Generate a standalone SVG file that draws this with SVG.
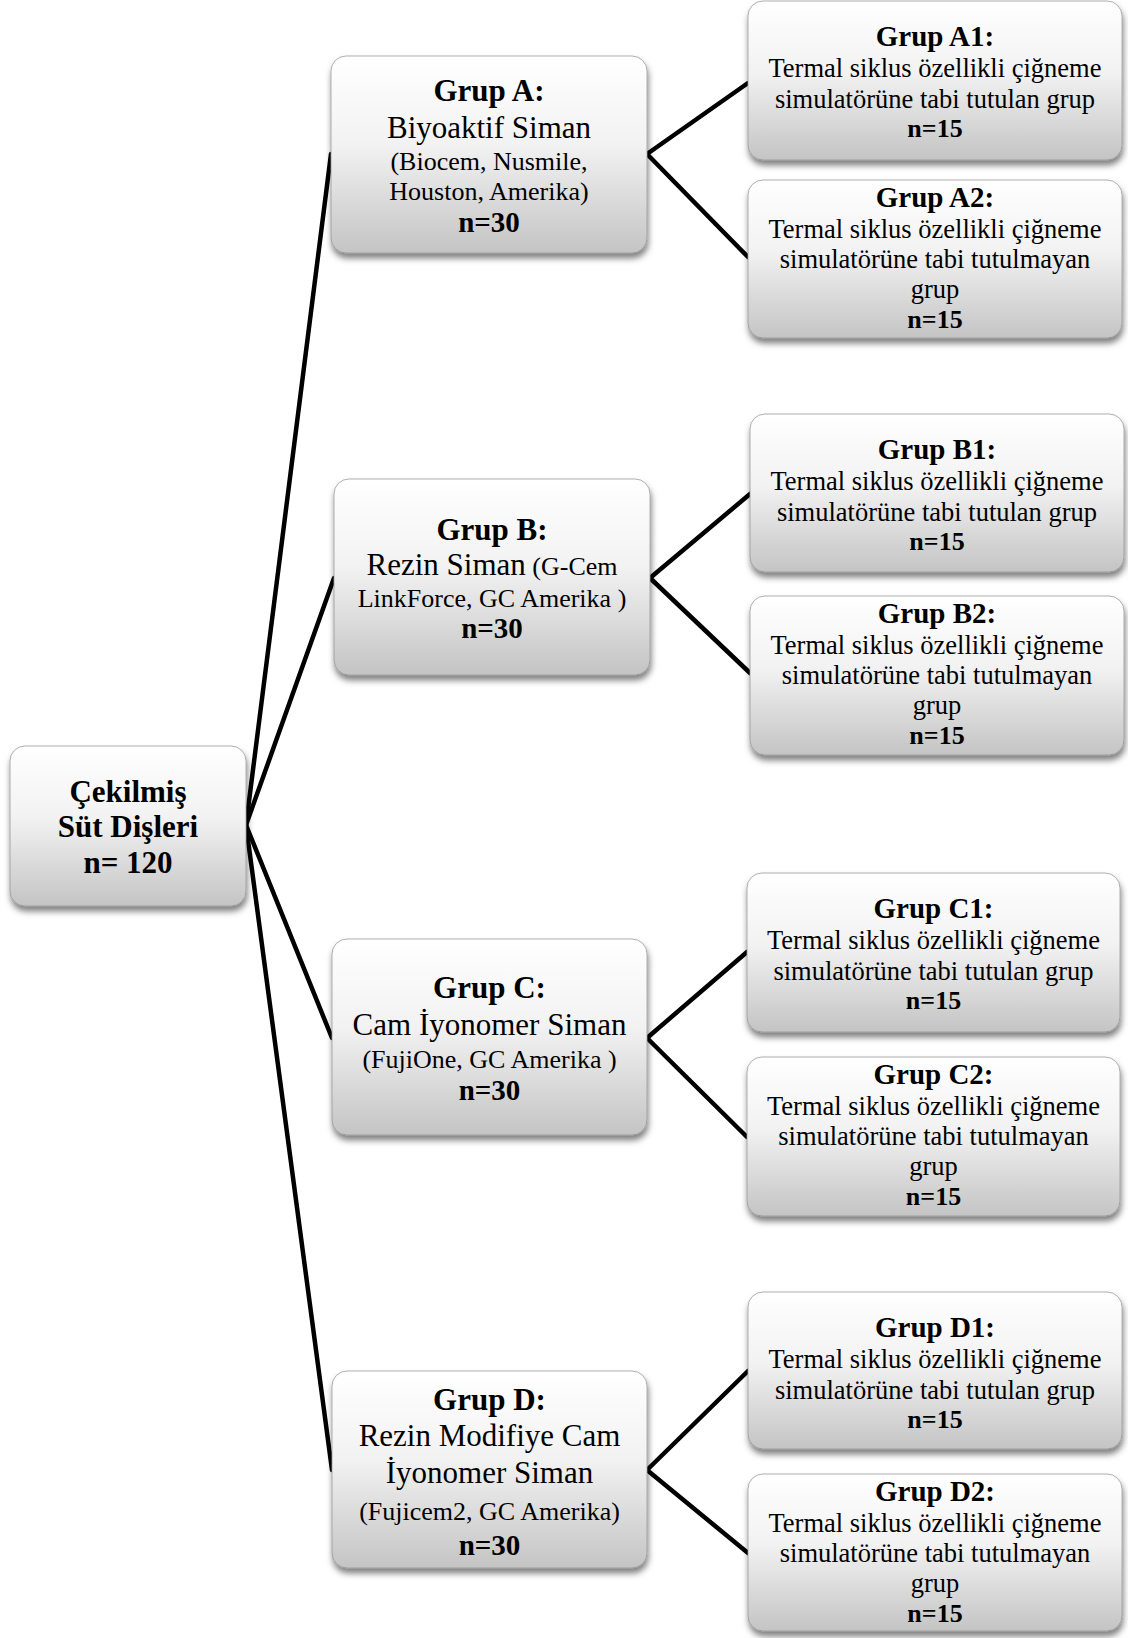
<svg xmlns="http://www.w3.org/2000/svg" width="1128" height="1638" viewBox="0 0 1128 1638">
<defs>
<linearGradient id="g" x1="0" y1="0" x2="0" y2="1">
<stop offset="0" stop-color="#ffffff"/>
<stop offset="0.45" stop-color="#f2f2f2"/>
<stop offset="1" stop-color="#c4c4c4"/>
</linearGradient>
<filter id="sh" x="-10%" y="-10%" width="125%" height="130%">
<feDropShadow dx="1" dy="5" stdDeviation="3" flood-color="#000" flood-opacity="0.5"/>
</filter>
</defs>
<style>
.box{fill:url(#g);stroke:#8f8f8f;stroke-width:1;stroke-opacity:0.7;filter:url(#sh)}
text{font-family:"Liberation Serif","Times New Roman",serif;fill:#000;text-anchor:middle}
.b{font-weight:bold}
.t31{font-size:31px}
.t29{font-size:29px}
.t26{font-size:26px}
.t265{font-size:26.5px}
.con{stroke:#000;stroke-width:4.5;fill:none;stroke-linecap:round}
</style>
<rect width="1128" height="1638" fill="#ffffff"/>
<g id="connectors">
<line class="con" x1="246" y1="825" x2="331" y2="154"/>
<line class="con" x1="246" y1="825" x2="334" y2="578"/>
<line class="con" x1="246" y1="825" x2="332" y2="1038"/>
<line class="con" x1="246" y1="825" x2="332" y2="1470"/>
<line class="con" x1="647" y1="154" x2="748" y2="83"/>
<line class="con" x1="647" y1="154" x2="748" y2="257"/>
<line class="con" x1="650" y1="578" x2="750" y2="494"/>
<line class="con" x1="650" y1="578" x2="750" y2="673"/>
<line class="con" x1="647" y1="1038" x2="747" y2="952"/>
<line class="con" x1="647" y1="1038" x2="747" y2="1137"/>
<line class="con" x1="647" y1="1470" x2="748" y2="1371"/>
<line class="con" x1="647" y1="1470" x2="748" y2="1553"/>
</g>
<g id="root">
<rect class="box" x="10" y="746" width="236" height="160" rx="15"/>
<text class="b t31" x="128" y="802">Çekilmiş</text>
<text class="b t31" x="128" y="837">Süt Dişleri</text>
<text class="b t31" x="128" y="873">n= 120</text>
</g>
<g id="grupA">
<rect class="box" x="331" y="56" width="316" height="197" rx="15"/>
<text class="b t31" x="489" y="101">Grup A:</text>
<text class="t31" x="489" y="138">Biyoaktif Siman</text>
<text class="t26" x="489" y="170">(Biocem, Nusmile,</text>
<text class="t26" x="489" y="200">Houston, Amerika)</text>
<text class="b t29" x="489" y="232">n=30</text>
</g>
<g id="grupB">
<rect class="box" x="334" y="479" width="316" height="196" rx="15"/>
<text class="b t31" x="492" y="540">Grup B:</text>
<text x="492" y="575"><tspan class="t31">Rezin Siman</tspan><tspan class="t26"> (G-Cem</tspan></text>
<text class="t26" x="492" y="607">LinkForce, GC Amerika )</text>
<text class="b t29" x="492" y="638">n=30</text>
</g>
<g id="grupC">
<rect class="box" x="332" y="939" width="315" height="196" rx="15"/>
<text class="b t31" x="489.5" y="998">Grup C:</text>
<text class="t31" x="489.5" y="1035">Cam İyonomer Siman</text>
<text class="t26" x="489.5" y="1068">(FujiOne, GC Amerika )</text>
<text class="b t29" x="489.5" y="1100">n=30</text>
</g>
<g id="grupD">
<rect class="box" x="332" y="1371" width="315" height="197" rx="15"/>
<text class="b t31" x="489.5" y="1410">Grup D:</text>
<text class="t31" x="489.5" y="1446">Rezin Modifiye Cam</text>
<text class="t31" x="489.5" y="1483">İyonomer Siman</text>
<text class="t26" x="489.5" y="1520">(Fujicem2, GC Amerika)</text>
<text class="b t29" x="489.5" y="1555">n=30</text>
</g>
<g id="grupA1">
<rect class="box" x="748" y="1" width="374" height="159" rx="15"/>
<text class="b t29" x="935" y="46">Grup A1:</text>
<text class="t265" x="935" y="77">Termal siklus özellikli çiğneme</text>
<text class="t265" x="935" y="108">simulatörüne tabi tutulan grup</text>
<text class="b t26" x="935" y="137">n=15</text>
</g>
<g id="grupA2">
<rect class="box" x="748" y="180" width="374" height="158" rx="15"/>
<text class="b t29" x="935" y="207">Grup A2:</text>
<text class="t265" x="935" y="238">Termal siklus özellikli çiğneme</text>
<text class="t265" x="935" y="268">simulatörüne tabi tutulmayan</text>
<text class="t265" x="935" y="298">grup</text>
<text class="b t26" x="935" y="328">n=15</text>
</g>
<g id="grupB1">
<rect class="box" x="750" y="414" width="374" height="158" rx="15"/>
<text class="b t29" x="937" y="459">Grup B1:</text>
<text class="t265" x="937" y="490">Termal siklus özellikli çiğneme</text>
<text class="t265" x="937" y="521">simulatörüne tabi tutulan grup</text>
<text class="b t26" x="937" y="550">n=15</text>
</g>
<g id="grupB2">
<rect class="box" x="750" y="596" width="374" height="159" rx="15"/>
<text class="b t29" x="937" y="623">Grup B2:</text>
<text class="t265" x="937" y="654">Termal siklus özellikli çiğneme</text>
<text class="t265" x="937" y="684">simulatörüne tabi tutulmayan</text>
<text class="t265" x="937" y="714">grup</text>
<text class="b t26" x="937" y="744">n=15</text>
</g>
<g id="grupC1">
<rect class="box" x="747" y="873" width="373" height="159" rx="15"/>
<text class="b t29" x="933.5" y="918">Grup C1:</text>
<text class="t265" x="933.5" y="949">Termal siklus özellikli çiğneme</text>
<text class="t265" x="933.5" y="980">simulatörüne tabi tutulan grup</text>
<text class="b t26" x="933.5" y="1009">n=15</text>
</g>
<g id="grupC2">
<rect class="box" x="747" y="1057" width="373" height="159" rx="15"/>
<text class="b t29" x="933.5" y="1084">Grup C2:</text>
<text class="t265" x="933.5" y="1115">Termal siklus özellikli çiğneme</text>
<text class="t265" x="933.5" y="1145">simulatörüne tabi tutulmayan</text>
<text class="t265" x="933.5" y="1175">grup</text>
<text class="b t26" x="933.5" y="1205">n=15</text>
</g>
<g id="grupD1">
<rect class="box" x="748" y="1292" width="374" height="157" rx="15"/>
<text class="b t29" x="935" y="1337">Grup D1:</text>
<text class="t265" x="935" y="1368">Termal siklus özellikli çiğneme</text>
<text class="t265" x="935" y="1399">simulatörüne tabi tutulan grup</text>
<text class="b t26" x="935" y="1428">n=15</text>
</g>
<g id="grupD2">
<rect class="box" x="748" y="1474" width="374" height="157" rx="15"/>
<text class="b t29" x="935" y="1501">Grup D2:</text>
<text class="t265" x="935" y="1532">Termal siklus özellikli çiğneme</text>
<text class="t265" x="935" y="1562">simulatörüne tabi tutulmayan</text>
<text class="t265" x="935" y="1592">grup</text>
<text class="b t26" x="935" y="1622">n=15</text>
</g>
</svg>
